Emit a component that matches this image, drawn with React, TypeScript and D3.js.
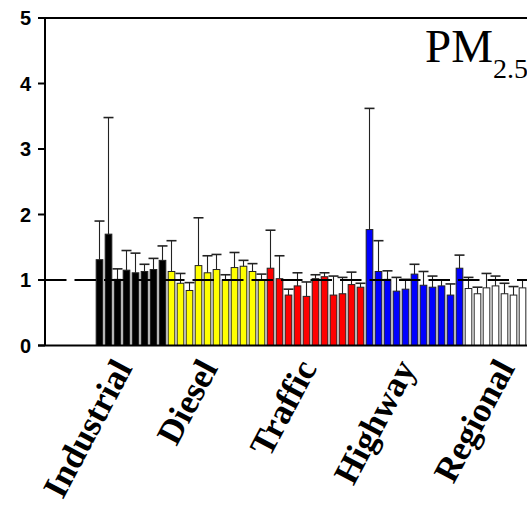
import React from "react";
import * as d3 from "d3";

// ratios per site, grouped by site type
const categories = ["Industrial", "Diesel", "Traffic", "Highway", "Regional"];
const fills = ["#000000", "#ffff00", "#ff0000", "#0000ff", "#ffffff"];
// number of sites per group (last Regional sites run past the frame)
const siteCounts = [8, 11, 11, 11, 11];

const industrialMean = [1.31, 1.7, 1.01, 1.15, 1.11, 1.13, 1.16, 1.3];
const industrialUpper = [1.9, 3.48, 1.17, 1.45, 1.41, 1.24, 1.33, 1.52];
const dieselMean = [1.13, 0.95, 0.84, 1.22, 1.11, 1.16, 1.0, 1.19, 1.21, 1.13, 1.0];
const dieselUpper = [1.6, 1.1, 0.96, 1.95, 1.37, 1.39, 1.08, 1.42, 1.3, 1.25, 1.09];
const trafficMean = [1.18, 1.02, 0.77, 0.91, 0.75, 1.02, 1.05, 0.77, 0.79, 0.93, 0.89];
const trafficUpper = [1.76, 1.37, 0.86, 1.11, 0.97, 1.08, 1.11, 1.06, 1.04, 1.12, 0.95];
const highwayMean = [1.77, 1.13, 1.01, 0.83, 0.86, 1.09, 0.92, 0.89, 0.91, 0.77, 1.18];
const highwayUpper = [3.62, 1.6, 1.14, 1.04, 1.01, 1.24, 1.13, 1.06, 1.0, 0.94, 1.38];
const regionalMean = [0.87, 0.79, 0.88, 0.91, 0.79, 0.77, 0.88];
const regionalUpper = [1.04, 0.89, 1.1, 1.06, 0.95, 0.9, 1.0];

const means = [industrialMean, dieselMean, trafficMean, highwayMean, regionalMean];
const uppers = [industrialUpper, dieselUpper, trafficUpper, highwayUpper, regionalUpper];

const yTicks = [0, 1, 2, 3, 4, 5];
const refLevel = 1;

const width = 527;
const height = 508;
const left = 45;
const top = 18;
const bottom = 345.5;

export default function App() {
  const totalSlots = d3.sum(siteCounts);
  const starts = siteCounts.map((_, i) => d3.sum(siteCounts.slice(0, i)));

  const x = d3
    .scaleBand<number>()
    .domain(d3.range(totalSlots))
    .range([95, 95 + totalSlots * 9])
    .paddingInner(0.26)
    .paddingOuter(0.13);

  const y = d3.scaleLinear().domain([0, 5]).range([bottom, top]);

  const bars = categories.flatMap((cat, c) =>
    means[c].map((v, i) => ({
      cat: c,
      slot: starts[c] + i,
      value: v,
      upper: uppers[c][i]
    }))
  );

  const bw = x.bandwidth();

  return (
    <svg
      width={width}
      height={height}
      style={{ position: "absolute", left: 0, top: 0, background: "#fff" }}
    >
      {/* bars */}
      <g>
        {bars.map(d => (
          <rect
            key={"b" + d.slot}
            x={x(d.slot)}
            y={y(d.value)}
            width={bw}
            height={y(0) - y(d.value)}
            fill={fills[d.cat]}
            stroke="#222"
            strokeWidth={1}
          />
        ))}
      </g>

      {/* upper error bars */}
      <g stroke="#222">
        {bars.map(d => {
          const cx = (x(d.slot) as number) + bw / 2;
          return (
            <g key={"e" + d.slot}>
              <line x1={cx} x2={cx} y1={y(d.value)} y2={y(d.upper)} strokeWidth={1.1} />
              <line x1={cx - 5} x2={cx + 5} y1={y(d.upper)} y2={y(d.upper)} strokeWidth={1.6} />
            </g>
          );
        })}
      </g>

      {/* reference line at 1 */}
      <line
        x1={left}
        x2={width}
        y1={y(refLevel)}
        y2={y(refLevel)}
        stroke="#000"
        strokeWidth={2}
        strokeDasharray="21.5,8"
      />

      {/* frame */}
      <g stroke="#000" strokeWidth={2}>
        <line x1={left} x2={left} y1={top} y2={bottom} />
        <line x1={left} x2={width} y1={top} y2={top} />
        <line x1={left - 7} x2={width} y1={bottom} y2={bottom} />
        {yTicks.map(t => (
          <line key={t} x1={left - 7} x2={left} y1={y(t)} y2={y(t)} />
        ))}
      </g>

      {/* y tick labels */}
      <g fontFamily="Liberation Sans, Arial, sans-serif" fontWeight="bold" fontSize={20} textAnchor="end">
        {yTicks.map(t => (
          <text key={t} x={31} y={y(t)} dy="0.36em">
            {t}
          </text>
        ))}
      </g>

      {/* group labels */}
      <g fontFamily="Liberation Serif, Times New Roman, serif" fontWeight="bold" fontSize={35} textAnchor="end">
        {categories.map((cat, c) => {
          const x0 = x(starts[c]) as number;
          const x1 = (x(starts[c] + siteCounts[c] - 1) as number) + bw;
          const cx = (x0 + x1) / 2;
          return (
            <text key={cat} transform={`translate(${cx + 2},${368}) rotate(-62)`}>
              {cat}
            </text>
          );
        })}
      </g>

      {/* title (runs slightly past the frame like the original) */}
      <text x={425} y={62} fontFamily="Liberation Serif, Times New Roman, serif" fontSize={47}>
        PM
        <tspan fontSize={28} dy={16}>
          2.5
        </tspan>
      </text>
    </svg>
  );
}
